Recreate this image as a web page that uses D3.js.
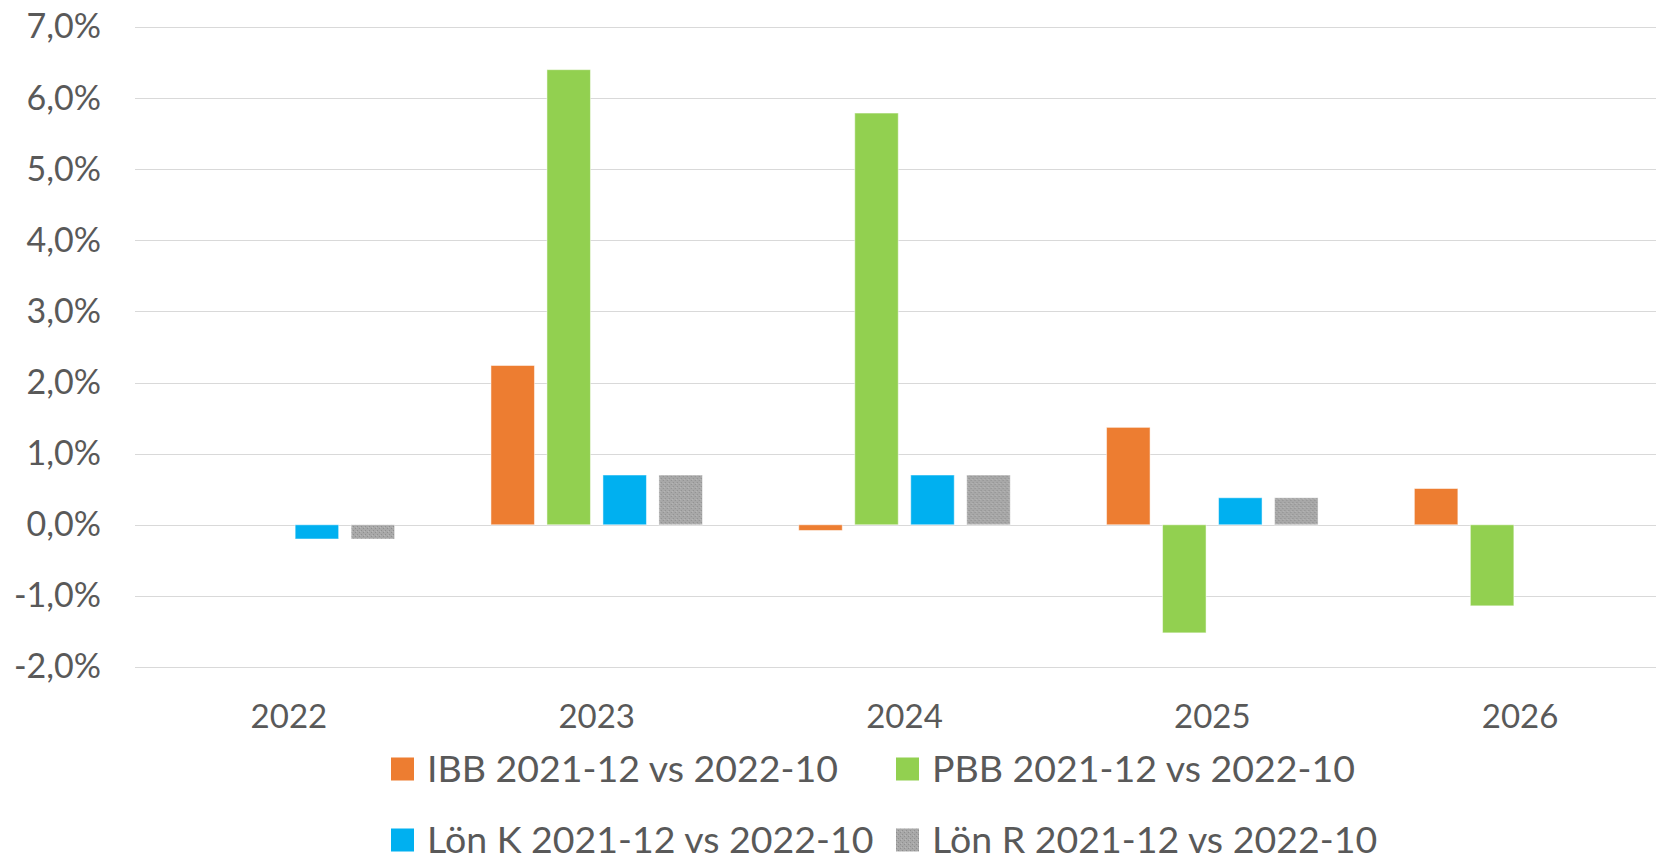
<!DOCTYPE html>
<html lang="sv">
<head>
  <meta charset="UTF-8">
  <title>IBB / PBB / Lön</title>
  <script src="https://d3js.org/d3.v7.min.js"></script>
  <style>
    body { margin: 0; background: #fff; }
    svg text { font-family: Lato, "Open Sans", sans-serif; fill: #595959; }
    .grid line { stroke: #d9d9d9; stroke-width: 1.5px; shape-rendering: crispEdges; }
  </style>
</head>
<body>
  <script>
    // chart data
    const years = ["2022", "2023", "2024", "2025", "2026"];
    const seriesNames = [
      "IBB 2021-12 vs 2022-10",
      "PBB 2021-12 vs 2022-10",
      "Lön K 2021-12 vs 2022-10",
      "Lön R 2021-12 vs 2022-10"
    ];
    const ibb  = [null, 2.24, -0.08, 1.37, 0.51];
    const pbb  = [null, 6.40, 5.79, -1.52, -1.14];
    const lonK = [-0.20, 0.70, 0.70, 0.38, null];
    const lonR = [-0.20, 0.70, 0.70, 0.38, null];
    const yTicks = [-2, -1, 0, 1, 2, 3, 4, 5, 6, 7];

    const colors = ["#ED7D31", "#92D050", "#00B0F0", "url(#grayTex)"];
    const allSeries = [ibb, pbb, lonK, lonR];

    const width = 1656, height = 860;
    const margin = {top: 27, left: 135, bottom: 193};
    const plotRight = 1674; // plot area runs a bit past the picture edge

    const svg = d3.select("body").append("svg")
      .attr("width", width).attr("height", height);

    // grey textured fill for "Lön R"
    const pat = svg.append("defs").append("pattern")
      .attr("id", "grayTex").attr("patternUnits", "userSpaceOnUse")
      .attr("width", 4).attr("height", 4);
    pat.append("rect").attr("width", 4).attr("height", 4).attr("fill", "#a8a8a8");
    pat.append("rect").attr("x", 0).attr("y", 0).attr("width", 1).attr("height", 1).attr("fill", "#8f8f8f");
    pat.append("rect").attr("x", 2).attr("y", 2).attr("width", 1).attr("height", 1).attr("fill", "#8f8f8f");
    pat.append("rect").attr("x", 1).attr("y", 3).attr("width", 1).attr("height", 1).attr("fill", "#b8b8b8");

    const x0 = d3.scaleBand().domain(years).range([margin.left, plotRight]);
    const x1 = d3.scaleBand().domain(d3.range(seriesNames.length))
      .range([0, x0.bandwidth()])
      .paddingInner(0.223).paddingOuter(0.86);
    const y = d3.scaleLinear().domain([-2, 7]).range([height - margin.bottom, margin.top]);

    // gridlines
    svg.append("g").attr("class", "grid")
      .selectAll("line").data(yTicks).join("line")
      .attr("x1", margin.left).attr("x2", plotRight)
      .attr("y1", d => Math.round(y(d)) + 0.5).attr("y2", d => Math.round(y(d)) + 0.5);

    // y axis labels (Swedish decimal comma, plain hyphen for minus)
    const yAxis = d3.axisLeft(y).tickValues(yTicks)
      .tickFormat(d => d.toFixed(1).replace(".", ",") + "%")
      .tickSize(0).tickPadding(34);
    svg.append("g").attr("transform", `translate(${margin.left},0)`)
      .call(yAxis)
      .call(g => g.select(".domain").remove())
      .call(g => g.selectAll("text").attr("font-size", 34).attr("font-family", null).attr("fill", "#595959"));

    // x axis labels
    const xAxis = d3.axisBottom(x0).tickSize(0).tickPadding(38);
    svg.append("g").attr("transform", `translate(0,${y(-2)})`)
      .call(xAxis)
      .call(g => g.select(".domain").remove())
      .call(g => g.selectAll("text").attr("font-size", 33).attr("font-family", null).attr("fill", "#595959"));

    // bars
    const groups = svg.append("g").selectAll("g").data(years).join("g")
      .attr("transform", d => `translate(${x0(d)},0)`);

    groups.selectAll("rect")
      .data((yr, i) => allSeries.map((s, k) => ({k, v: s[i]})).filter(d => d.v !== null))
      .join("rect")
      .attr("x", d => x1(d.k))
      .attr("width", x1.bandwidth())
      .attr("y", d => y(Math.max(0, d.v)))
      .attr("height", d => Math.abs(y(d.v) - y(0)))
      .attr("fill", d => colors[d.k])
      .attr("stroke", "#fff").attr("stroke-opacity", 0.5).attr("stroke-width", 1);

    // legend (2 x 2)
    const legendPos = [[391, 769], [896, 769], [391, 840], [896, 840]];
    const legend = svg.append("g").selectAll("g").data(seriesNames).join("g")
      .attr("transform", (d, i) => `translate(${legendPos[i][0]},${legendPos[i][1]})`);
    legend.append("rect")
      .attr("y", -11.5).attr("width", 23).attr("height", 23)
      .attr("fill", (d, i) => colors[i]);
    legend.append("text")
      .attr("x", 36).attr("dy", "0.35em")
      .attr("font-size", 37.5)
      .text(d => d);
  </script>
</body>
</html>
